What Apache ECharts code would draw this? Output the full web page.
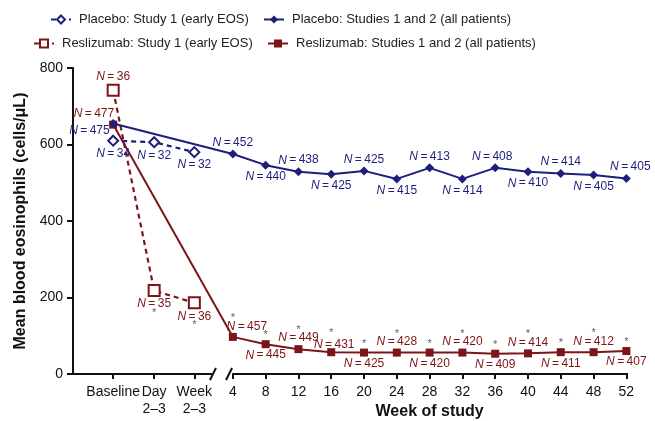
<!DOCTYPE html>
<html><head><meta charset="utf-8">
<script src="https://cdn.jsdelivr.net/npm/echarts@6/dist/echarts.min.js"></script>
<style>html,body{margin:0;padding:0;background:#fff}#c{width:655px;height:421px}</style>
</head><body><div id="c"></div>
<script>
// ---- data ----
const earlyCategories = ['Baseline', 'Day\n2–3', 'Week\n2–3'];
const weeks = [4, 8, 12, 16, 20, 24, 28, 32, 36, 40, 44, 48, 52];
const yTicks = [0, 200, 400, 600, 800];
const seriesNames = ['Placebo: Study 1 (early EOS)', 'Reslizumab: Study 1 (early EOS)',
  'Placebo: Studies 1 and 2 (all patients)', 'Reslizumab: Studies 1 and 2 (all patients)'];
// early EOS (Baseline, Day 2–3, Week 2–3)
const placeboEarly = [610, 606, 580];
const placeboEarlyN = [34, 32, 32];
const reslizEarly = [742, 218, 186];
const reslizEarlyN = [36, 35, 36];
const reslizEarlySig = [false, true, true];
// all patients (Baseline, then weeks 4..52)
const placeboAll = [655, 575, 546, 529, 522, 531, 510, 539, 510, 539, 529, 524, 520, 511];
const placeboAllN = [475, 452, 440, 438, 425, 425, 415, 413, 414, 408, 410, 414, 405, 405];
const reslizAll = [652, 97, 78, 65, 57, 56, 56, 56, 56, 53, 54, 57, 57, 60];
const reslizAllN = [477, 457, 445, 449, 431, 425, 428, 420, 420, 409, 414, 411, 412, 407];
const reslizAllSig = [false, true, true, true, true, true, true, true, true, true, true, true, true, true];

// ---- layout ----
const FONT = '"Liberation Sans", Arial, Helvetica, sans-serif';
const NAVY = '#1c1f7c';
const RED = '#7c1518';
const earlyPos = [-10.6, -5.6, -0.7];       // axis positions of the early categories
const X_MIN = -15.5, X_MAX = 52.2;
const BREAK_L = 1.45, BREAK_R = 3.9;
const allX = [earlyPos[0]].concat(weeks);
const tickVals = earlyPos.concat(weeks);
const tickLabelOf = {};
earlyCategories.forEach((c, i) => tickLabelOf[earlyPos[i]] = c);
weeks.forEach(w => tickLabelOf[w] = String(w));

const placeboAllPos = ['left', 'top', 'bottom', 'top', 'bottom', 'top', 'bottom', 'top', 'bottom', 'top', 'bottom', 'top', 'bottom', 'top'];
const reslizAllPos = ['left', 'top', 'bottom', 'top', 'top', 'bottom', 'top', 'bottom', 'top', 'bottom', 'top', 'bottom', 'top', 'bottom'];

const nFmt = n => '{i|N}\u2009=\u2009' + n;
const rich = { i: { fontStyle: 'italic', fontFamily: FONT, fontSize: 12 } };

function items(xs, ys, ns, positions, extra) {
  return ys.map((y, i) => {
    const pos = positions[i];
    const lab = { position: pos, formatter: nFmt(ns[i]) };
    if (extra && extra[i]) Object.assign(lab, extra[i]);
    return { value: [xs[i], y], label: lab };
  });
}

const placeboAllData = items(allX, placeboAll, placeboAllN, placeboAllPos,
  { 0: { offset: [2, 7] }, 9: { offset: [-3, 0] }, 13: { offset: [4, 0] } });
const reslizAllData = items(allX, reslizAll, reslizAllN, reslizAllPos,
  { 0: { offset: [6, -11] }, 1: { offset: [14, 1] }, 4: { offset: [3, 3] } });
const placeboEarlyData = items(earlyPos, placeboEarly, placeboEarlyN, ['bottom', 'bottom', 'bottom']);
const reslizEarlyData = items(earlyPos, reslizEarly, reslizEarlyN, ['top', 'bottom', 'bottom']);

// significance asterisks
const starData = [];
reslizAll.forEach((v, i) => {
  if (!reslizAllSig[i]) return;
  const above = reslizAllPos[i] === 'top';
  starData.push({ value: [allX[i], v], label: { position: 'top', distance: above ? 13 : 3 } });
});
reslizEarly.forEach((v, i) => {
  if (!reslizEarlySig[i]) return;
  starData.push({ value: [earlyPos[i], v], label: { position: 'bottom', distance: 16 } });
});

const labelBase = (color) => ({ show: true, color: color, fontFamily: FONT, fontSize: 12, distance: 1, rich: rich });

const chart = echarts.init(document.getElementById('c'), null, { renderer: 'canvas' });
const option = {
  animation: false,
  textStyle: { fontFamily: FONT },
  legend: [
    { data: [seriesNames[0]], left: 45, top: 8 },
    { data: [seriesNames[1]], left: 28, top: 32 },
    { data: [seriesNames[2]], left: 258, top: 8 },
    { data: [seriesNames[3]], left: 262, top: 32 }
  ].map(l => Object.assign(l, {
    itemWidth: 20, itemHeight: 10, selectedMode: false,
    textStyle: { fontSize: 13, color: '#222', fontFamily: FONT, padding: [0, 0, 0, 3] }
  })),
  grid: { left: 73, right: 27, top: 68, bottom: 47, containLabel: false },
  xAxis: {
    type: 'value', min: X_MIN, max: X_MAX,
    axisLine: { show: false },
    splitLine: { show: false },
    axisTick: { show: true, customValues: tickVals, length: 5, lineStyle: { color: '#111', width: 2 } },
    axisLabel: {
      customValues: tickVals, margin: 10, fontSize: 14, color: '#111', lineHeight: 17,
      fontFamily: FONT, formatter: v => tickLabelOf[v] !== undefined ? tickLabelOf[v] : ''
    }
  },
  yAxis: {
    type: 'value', min: yTicks[0], max: yTicks[yTicks.length - 1], interval: yTicks[1] - yTicks[0],
    name: 'Mean blood eosinophils (cells/μL)', nameLocation: 'middle', nameGap: 41,
    nameTextStyle: { fontSize: 16, fontWeight: 'bold', color: '#111', fontFamily: FONT },
    axisLine: { show: true, onZero: false, lineStyle: { color: '#111', width: 2 } },
    axisTick: { show: true, length: 6, lineStyle: { color: '#111', width: 2 } },
    axisLabel: { margin: 10, fontSize: 14, color: '#111', fontFamily: FONT },
    splitLine: { show: false }
  },
  series: [
    {
      name: seriesNames[3], type: 'line', data: reslizAllData, z: 2,
      symbol: 'rect', symbolSize: 8,
      lineStyle: { color: RED, width: 2 }, itemStyle: { color: RED },
      label: labelBase(RED)
    },
    {
      name: seriesNames[1], type: 'line', data: reslizEarlyData, z: 3,
      symbol: 'rect', symbolSize: 11,
      lineStyle: { color: RED, width: 2.2, type: [5, 4] },
      itemStyle: { color: '#fff', borderColor: RED, borderWidth: 2 },
      label: labelBase(RED)
    },
    {
      name: seriesNames[0], type: 'line', data: placeboEarlyData, z: 4,
      symbol: 'diamond', symbolSize: 10,
      lineStyle: { color: NAVY, width: 2.2, type: [5, 4] },
      itemStyle: { color: '#fff', borderColor: NAVY, borderWidth: 2 },
      label: labelBase(NAVY)
    },
    {
      name: seriesNames[2], type: 'line', data: placeboAllData, z: 5,
      symbol: 'diamond', symbolSize: 9,
      lineStyle: { color: NAVY, width: 2 }, itemStyle: { color: NAVY },
      label: labelBase(NAVY)
    },
    {
      name: 'sig', type: 'scatter', data: starData, z: 6, silent: true,
      symbol: 'circle', symbolSize: 1, itemStyle: { color: 'rgba(0,0,0,0)' },
      label: { show: true, formatter: '*', color: '#333', fontSize: 11, fontFamily: FONT }
    }
  ]
};
chart.setOption(option);

// broken x axis line + axis title placed via the axis scale
const px = v => chart.convertToPixel({ gridIndex: 0 }, [v, 0]);
const a0 = px(X_MIN), aL = px(BREAK_L), aR = px(BREAK_R), a1 = px(X_MAX);
const y0 = a0[1];
const lineSty = { stroke: '#111', lineWidth: 2 };
const slash = (x) => ({ type: 'line', shape: { x1: x - 3, y1: y0 + 6, x2: x + 3, y2: y0 - 6 }, style: lineSty, z: 10 });
const mid = px((weeks[0] + weeks[weeks.length - 1]) / 2);
chart.setOption({
  graphic: [
    { type: 'line', shape: { x1: a0[0] - 1, y1: y0, x2: aL[0], y2: y0 }, style: lineSty, z: 10 },
    { type: 'line', shape: { x1: aR[0], y1: y0, x2: a1[0], y2: y0 }, style: lineSty, z: 10 },
    slash(aL[0] + 1),
    slash(aR[0] - 3),
    { type: 'text', x: mid[0], y: y0 + 38, style: { text: 'Week of study', font: 'bold 16px ' + FONT, fill: '#111', textAlign: 'center', textVerticalAlign: 'middle' } }
  ]
});
</script></body></html>
